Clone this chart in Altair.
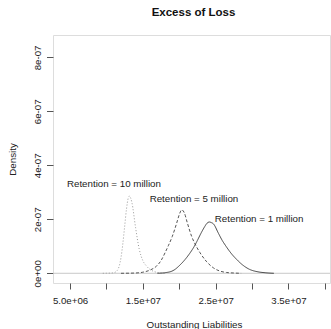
import altair as alt
import pandas as pd

# ---- data ----
# Retention = 10 million (dotted)
r10_x = [9.5e6, 10.0e6, 10.5e6, 11.0e6, 11.5e6, 12.0e6, 12.25e6, 12.5e6, 12.75e6, 13.0e6,
         13.15e6, 13.5e6, 14.0e6, 14.5e6, 15.0e6, 15.5e6, 16.0e6, 16.5e6, 17.0e6, 17.5e6, 18.0e6]
r10_y = [0.0, 0.003e-7, 0.006e-7, 0.02e-7, 0.11e-7, 0.58e-7, 1.09e-7, 1.73e-7, 2.37e-7, 2.79e-7,
         2.86e-7, 2.62e-7, 1.70e-7, 0.90e-7, 0.47e-7, 0.27e-7, 0.14e-7, 0.07e-7, 0.03e-7, 0.01e-7, 0.0]
# Retention = 5 million (dashed)
r5_x = [12.0e6, 14.0e6, 15.0e6, 16.0e6, 16.9e6, 17.5e6, 18.05e6, 18.5e6, 19.05e6, 19.65e6, 20.0e6,
        20.35e6, 20.7e6, 21.1e6, 21.7e6, 22.3e6, 22.86e6, 23.7e6, 24.7e6, 25.5e6, 26.5e6, 27.5e6, 28.5e6]
r5_y = [0.0, 0.01e-7, 0.04e-7, 0.12e-7, 0.27e-7, 0.47e-7, 0.76e-7, 1.02e-7, 1.37e-7, 1.86e-7, 2.17e-7,
        2.35e-7, 2.24e-7, 1.88e-7, 1.37e-7, 1.02e-7, 0.76e-7, 0.45e-7, 0.20e-7, 0.09e-7, 0.03e-7, 0.01e-7, 0.0]
# Retention = 1 million (solid)
r1_x = [17.0e6, 18.0e6, 19.0e6, 19.4e6, 20.0e6, 20.8e6, 21.5e6, 22.07e6, 22.5e6, 23.0e6, 23.5e6,
        23.8e6, 24.14e6, 24.4e6, 24.7e6, 25.37e6, 25.9e6, 26.43e6, 27.1e6, 27.9e6, 28.7e6, 29.7e6,
        30.7e6, 31.8e6, 33.0e6]
r1_y = [0.0, 0.02e-7, 0.08e-7, 0.14e-7, 0.28e-7, 0.51e-7, 0.76e-7, 1.0e-7, 1.22e-7, 1.49e-7, 1.73e-7,
        1.85e-7, 1.90e-7, 1.88e-7, 1.83e-7, 1.49e-7, 1.22e-7, 1.0e-7, 0.75e-7, 0.51e-7, 0.31e-7, 0.14e-7,
        0.06e-7, 0.02e-7, 0.0]

series_names = ["Retention = 10 million", "Retention = 5 million", "Retention = 1 million"]
label_x = [11.03e6, 22.02e6, 30.97e6]
label_y = [3.30e-7, 2.76e-7, 2.00e-7]

x_ticks = [5e6, 10e6, 15e6, 20e6, 25e6, 30e6, 35e6, 40e6]
x_tick_labels = ["5.0e+06", "", "1.5e+07", "", "2.5e+07", "", "3.5e+07", ""]
y_ticks = [0.0, 2e-7, 4e-7, 6e-7, 8e-7]
y_tick_labels = ["0e+00", "2e-07", "4e-07", "6e-07", "8e-07"]

rows = []
for name, xs, ys in zip(series_names, [r10_x, r5_x, r1_x], [r10_y, r5_y, r1_y]):
    for a, b in zip(xs, ys):
        rows.append({"series": name, "x": a, "y": b})
df = pd.DataFrame(rows)
lab_df = pd.DataFrame({"label": series_names, "x": label_x, "y": label_y})
zero_df = pd.DataFrame({"y": [0.0]})

FONT = "Liberation Sans"
xscale = alt.Scale(domain=[2.66e6, 40.71e6], nice=False, zero=False)
yscale = alt.Scale(domain=[-0.36e-7, 8.83e-7], nice=False, zero=False)

x_label_expr = "[" + ",".join("'%s'" % s for s in x_tick_labels) + "][round(datum.value/5000000)-1]"
y_label_expr = "[" + ",".join("'%s'" % s for s in y_tick_labels) + "][round(datum.value*5000000)]"

xaxis = alt.Axis(values=x_ticks, labelExpr=x_label_expr, title="Outstanding Liabilities",
                 domain=False, grid=False, tickSize=6, tickColor="#555555",
                 labelFont=FONT, labelFontSize=9.7, labelColor="#222222", labelPadding=6,
                 labelFlush=False, labelOverlap=False,
                 titleFont=FONT, titleFontSize=9.8, titleFontWeight="normal", titleColor="#222222",
                 titleX=141, titleY=44.5, titleBaseline="alphabetic", titleAlign="center")
yaxis = alt.Axis(values=y_ticks, labelExpr=y_label_expr, title="Density",
                 domain=False, grid=False, tickSize=6.5, tickColor="#555555",
                 labelFont=FONT, labelFontSize=9.7, labelColor="#222222", labelPadding=4,
                 labelAngle=270, labelAlign="center", labelBaseline="bottom",
                 labelFlush=False, labelOverlap=False,
                 titleFont=FONT, titleFontSize=9.8, titleFontWeight="normal", titleColor="#222222",
                 titleAngle=270, titleX=-41, titleY=124, titleBaseline="middle", titleAlign="center")

zero = alt.Chart(zero_df).mark_rule(color="#c8c8c8", strokeWidth=1).encode(
    y=alt.Y("y:Q", scale=yscale, axis=yaxis))

lines = alt.Chart(df).mark_line(strokeWidth=1, interpolate="monotone").encode(
    x=alt.X("x:Q", scale=xscale, axis=xaxis),
    y=alt.Y("y:Q", scale=yscale, axis=yaxis),
    color=alt.Color("series:N", scale=alt.Scale(domain=series_names,
                                                range=["#9a9a9a", "#555555", "#444444"]), legend=None),
    strokeDash=alt.StrokeDash("series:N", scale=alt.Scale(domain=series_names,
                                                          range=[[1, 2], [3, 2], [1, 0]]), legend=None),
    detail="series:N",
)

labels = alt.Chart(lab_df).mark_text(font=FONT, fontSize=9.75, color="#222222",
                                     align="center", baseline="middle").encode(
    x=alt.X("x:Q", scale=xscale, axis=xaxis),
    y=alt.Y("y:Q", scale=yscale, axis=yaxis),
    text="label:N",
)

chart = alt.layer(zero, lines, labels).properties(
    width=277, height=248,
    autosize=alt.AutoSizeParams(type="none"),
    padding={"left": 53, "top": 35, "right": 1, "bottom": 46},
    title=alt.Title("Excess of Loss", font=FONT, fontSize=11.5, fontWeight="bold",
                    color="#111111", anchor="middle", baseline="alphabetic", offset=8, dx=2),
).configure_view(stroke="#555555", strokeWidth=1).configure(background="white")

chart.save("out.html", embed_options={"renderer": "svg", "actions": False})
